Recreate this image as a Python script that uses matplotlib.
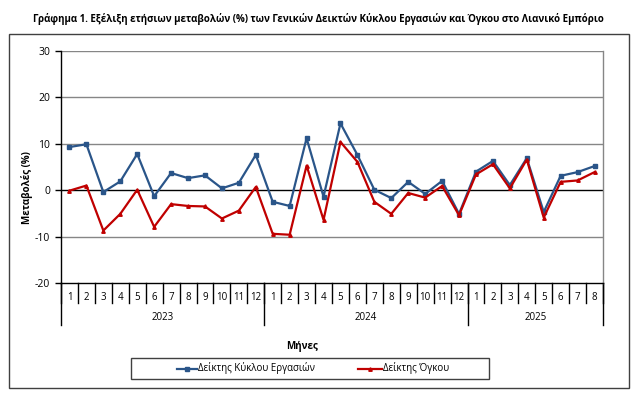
import matplotlib
matplotlib.use("Agg")
import matplotlib.pyplot as plt
from matplotlib.lines import Line2D
from matplotlib.patches import Rectangle
import matplotlib.transforms as mtransforms

plt.rcParams['font.family'] = ['Open Sans', 'DejaVu Sans']

title = "Γράφημα 1. Εξέλιξη ετήσιων μεταβολών (%) των Γενικών Δεικτών Κύκλου Εργασιών και Όγκου στο Λιανικό Εμπόριο"
years = ["2023", "2024", "2025"]
months_per_year = [12, 12, 8]
month_labels = [str(m) for n in months_per_year for m in range(1, n + 1)]
turnover = [9.3, 9.9, -0.4, 1.9, 7.8, -1.3, 3.7, 2.6, 3.2, 0.4, 1.6, 7.6,
            -2.5, -3.4, 11.2, -1.4, 14.4, 7.6, 0.1, -1.7, 1.8, -0.8, 2.0, -5.1,
            4.0, 6.3, 1.1, 6.9, -4.7, 3.1, 3.9, 5.2]
volume = [-0.1, 1.0, -8.7, -5.1, 0.1, -7.9, -3.0, -3.4, -3.5, -6.1, -4.4, 0.7,
          -9.4, -9.6, 5.3, -6.4, 10.4, 6.1, -2.5, -5.1, -0.6, -1.6, 0.9, -5.4,
          3.4, 5.6, 0.4, 6.6, -5.9, 1.8, 2.1, 3.9]
series_names = ["Δείκτης Κύκλου Εργασιών", "Δείκτης Όγκου"]
yticks = [-20, -10, 0, 10, 20, 30]

W, H = 638, 398
fig = plt.figure(figsize=(W / 100, H / 100), dpi=100)
fig.patch.set_facecolor('white')

def fx(px):
    return px / W

def fy(py):
    return 1 - py / H

# outer frame
fig.patches.append(Rectangle((fx(9), fy(388)), fx(629) - fx(9), fy(34) - fy(388),
                             transform=fig.transFigure, fill=False,
                             edgecolor='#404040', linewidth=1.0))

ax_l, ax_r, ax_t, ax_b = 61, 603, 51, 283
ax = fig.add_axes([fx(ax_l), fy(ax_b), fx(ax_r) - fx(ax_l), fy(ax_t) - fy(ax_b)])
n = len(month_labels)
x = list(range(n))
ax.set_xlim(-0.5, n - 0.5)
ax.set_ylim(-20, 30)

for v in yticks:
    if v == -20:
        continue
    ax.axhline(v, color='black' if v == 0 else '#868686', lw=1.0, zorder=1)

ax.plot(x, turnover, color='#2A5589', lw=1.6, marker='s', ms=3.2, zorder=3)
ax.plot(x, volume, color='#C00000', lw=1.6, marker='^', ms=2.5, zorder=4)

ax.spines['top'].set_visible(False)
ax.spines['right'].set_color('#868686')
ax.spines['left'].set_color('black')
ax.spines['bottom'].set_color('black')
for s in ax.spines.values():
    s.set_linewidth(1.0)

ax.set_yticks(yticks)
ax.set_yticklabels([str(v) for v in yticks], fontsize=7.5)
ax.tick_params(axis='y', direction='out', length=4, width=1, pad=4)
ax.set_xticks([])

fig.text(fx(27), fy(188), "Μεταβολές (%)", rotation=90, ha='center', va='center',
         fontsize=7, fontweight='bold')

# category axis
trans = mtransforms.blended_transform_factory(ax.transData, ax.transAxes)
ah = ax_b - ax_t
def ay(py):
    return (ax_b - py) / ah

for i in range(n + 1):
    ax.add_line(Line2D([i - 0.5, i - 0.5], [0, ay(303)], transform=trans,
                       color='black', lw=1.0, clip_on=False))
for i, lab in enumerate(month_labels):
    ax.text(i, ay(297), lab, transform=trans, ha='center', va='center', fontsize=7)

bounds = [0]
for k in months_per_year:
    bounds.append(bounds[-1] + k)
for j, yr in enumerate(years):
    a, b = bounds[j], bounds[j + 1]
    ax.add_line(Line2D([a - 0.5, a - 0.5], [0, ay(325)], transform=trans,
                       color='black', lw=1.0, clip_on=False))
    ax.text((a + b - 1) / 2, ay(318), yr, transform=trans, ha='center', va='center', fontsize=7)
ax.add_line(Line2D([n - 0.5, n - 0.5], [0, ay(325)], transform=trans,
                   color='black', lw=1.0, clip_on=False))

fig.text(fx(302), fy(346), "Μήνες", ha='center', va='center', fontsize=7, fontweight='bold')

fig.text(fx(318), fy(19), title, ha='center', va='center', fontsize=7.0, fontweight='bold')

# legend
fig.patches.append(Rectangle((fx(131), fy(379)), fx(489) - fx(131), fy(358) - fy(379),
                             transform=fig.transFigure, fill=False,
                             edgecolor='#404040', linewidth=1.0))
ly = fy(368.5)
fig.lines.append(Line2D([fx(177), fx(197)], [ly, ly], transform=fig.transFigure,
                        color='#2A5589', lw=1.6))
fig.lines.append(Line2D([fx(187)], [ly], transform=fig.transFigure,
                        color='#2A5589', marker='s', ms=3.2, lw=0))
fig.text(fx(198), ly, series_names[0], ha='left', va='center', fontsize=7)
fig.lines.append(Line2D([fx(358), fx(382)], [ly, ly], transform=fig.transFigure,
                        color='#C00000', lw=1.6))
fig.lines.append(Line2D([fx(370)], [ly], transform=fig.transFigure,
                        color='#C00000', marker='^', ms=2.5, lw=0))
fig.text(fx(383), ly, series_names[1], ha='left', va='center', fontsize=7)

fig.savefig("out.png", dpi=100, facecolor='white')
